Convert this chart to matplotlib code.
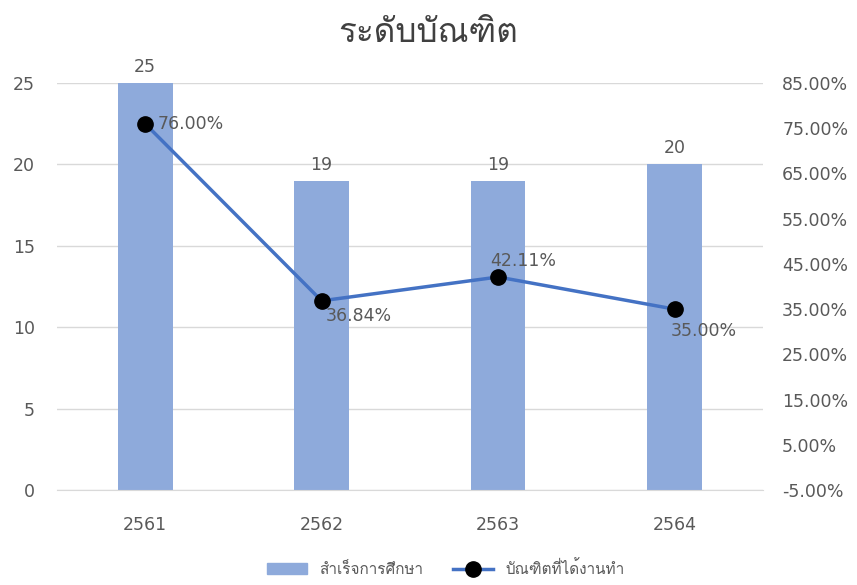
import matplotlib
matplotlib.use("Agg")
import matplotlib.pyplot as plt
from matplotlib import font_manager
from matplotlib.ft2font import FT2Font
from matplotlib.lines import Line2D
from matplotlib.patches import Patch
from matplotlib.ticker import FuncFormatter

years = ["2561", "2562", "2563", "2564"]
graduated = [25, 19, 19, 20]
employed_pct = [76.00, 36.84, 42.11, 35.00]

title = "ระดับบัณฑิต"
bar_name = "สำเร็จการศึกษา"
line_name = "บัณฑิตที่ได้งานทำ"


def find_thai_font():
    # pick any installed font that has Thai glyphs
    for f in font_manager.fontManager.ttflist:
        try:
            if 0x0E23 in FT2Font(f.fname).get_charmap():
                return f.name
        except Exception:
            pass
    return None


thai = find_thai_font()
thai_fams = ([thai] if thai else []) + ["DejaVu Sans"]
plt.rcParams["font.family"] = ["DejaVu Sans"] + ([thai] if thai else [])

text_col = "#595959"
bar_col = "#8eaadb"
line_col = "#4472c4"
grid_col = "#d9d9d9"
num_size = 12.5

fig = plt.figure(figsize=(8.57, 5.85), dpi=100)
ax = fig.add_axes([0.0665, 0.1624, 0.8235, 0.6956])
ax2 = ax.twinx()

x = list(range(len(years)))
ax.bar(x, graduated, width=0.31, color=bar_col, zorder=2)
ax.set_xlim(-0.5, len(years) - 0.5)
ax.set_ylim(0, 25)
ax.set_yticks(range(0, 26, 5))
ax.yaxis.grid(True, color=grid_col, lw=1, zorder=0)
ax.set_axisbelow(True)
ax.set_xticks(x)
ax.set_xticklabels(years)
ax.tick_params(axis="both", length=0, colors=text_col, labelsize=num_size)
ax.tick_params(axis="y", pad=16)
ax.tick_params(axis="x", pad=19)
for s in ax.spines.values():
    s.set_visible(False)
ax.spines["bottom"].set_visible(True)
ax.spines["bottom"].set_color(grid_col)

for xi, v in zip(x, graduated):
    ax.annotate(str(v), (xi, v), xytext=(0, 7), textcoords="offset pixels",
                ha="center", va="bottom", fontsize=num_size, color=text_col)

ax2.plot(x, employed_pct, color=line_col, lw=2.5, marker="o", ms=11,
         mfc="black", mec="black", zorder=5)
ax2.set_ylim(-5, 85)
ax2.set_yticks([-5 + 10 * i for i in range(10)])
ax2.yaxis.set_major_formatter(FuncFormatter(lambda v, p: "%.2f%%" % v))
ax2.tick_params(axis="y", length=0, colors=text_col, labelsize=num_size, pad=14)
for s in ax2.spines.values():
    s.set_visible(False)

offsets = [(12, 0, "left", "center"), (4, -6, "left", "top"),
           (-8, 7, "left", "bottom"), (-4, -13, "left", "top")]
for xi, v, (dx, dy, ha, va) in zip(x, employed_pct, offsets):
    ax2.annotate("%.2f%%" % v, (xi, v), xytext=(dx, dy), textcoords="offset pixels",
                 ha=ha, va=va, fontsize=num_size, color=text_col)

fig.suptitle(title, y=0.97, fontsize=24, color="#404040", family=thai_fams)

handles = [Patch(color=bar_col, label=bar_name),
           Line2D([0], [0], color=line_col, lw=2.5, marker="o", ms=11,
                  mfc="black", mec="black", label=line_name)]
fig.legend(handles=handles, loc="lower center", bbox_to_anchor=(0.52, -0.01),
           ncol=2, frameon=False, prop={"family": thai_fams, "size": 11},
           labelcolor=text_col, handlelength=2.6, columnspacing=2.0)

fig.savefig("out.png", dpi=100, facecolor="white")
